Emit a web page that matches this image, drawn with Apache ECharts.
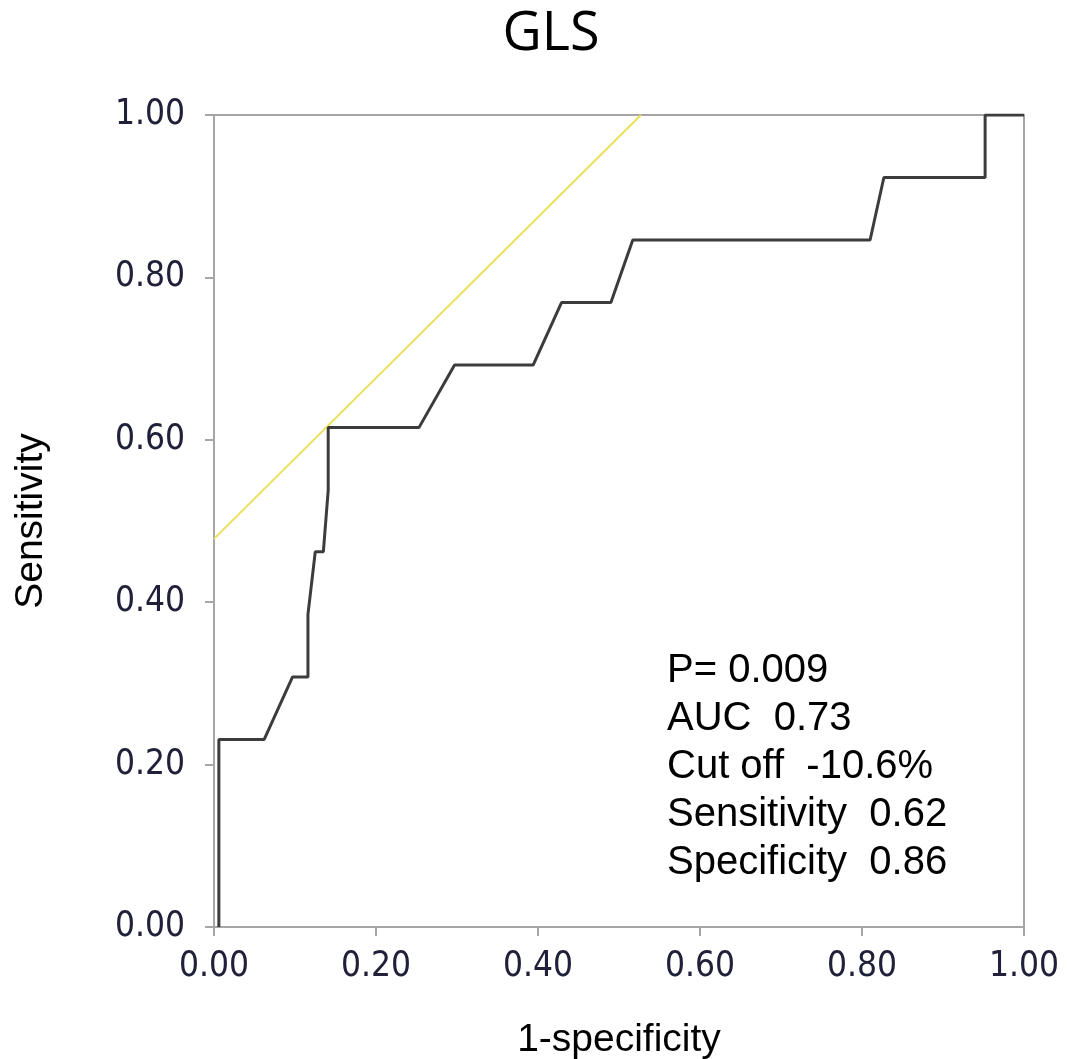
<!DOCTYPE html>
<html>
<head>
<meta charset="utf-8">
<script src="https://cdn.jsdelivr.net/npm/echarts@6/dist/echarts.min.js"></script>
<style>
  html, body { margin: 0; padding: 0; background: #fff; }
  #chart { width: 1067px; height: 1059px; }
</style>
</head>
<body>
<div id="chart"></div>
<script>
// ROC curve points [1-specificity, sensitivity]
var rocPoints = [
  [0.006, 0], [0.006, 0.231], [0.062, 0.231], [0.097, 0.308], [0.116, 0.308],
  [0.116, 0.385], [0.125, 0.462], [0.135, 0.462], [0.141, 0.538], [0.141, 0.615],
  [0.253, 0.615], [0.297, 0.692], [0.394, 0.692], [0.429, 0.769], [0.490, 0.769],
  [0.517, 0.846], [0.810, 0.846], [0.827, 0.923], [0.952, 0.923], [0.952, 1],
  [1, 1]
];
// tangent line at the cut off point
var tangentLine = [[0, 0.478], [0.527, 1]];
var statLines = [
  "P= 0.009",
  "AUC  0.73",
  "Cut off  -10.6%",
  "Sensitivity  0.62",
  "Specificity  0.86"
];

var chart = echarts.init(document.getElementById("chart"));

var axisCommon = {
  type: "value",
  min: 0,
  max: 1,
  interval: 0.2,
  axisLine: { show: true, lineStyle: { color: "#a6a6a6", width: 2 } },
  axisTick: { show: true, inside: false, length: 9, lineStyle: { color: "#a6a6a6", width: 2 } },
  splitLine: { show: false },
  axisLabel: {
    fontFamily: "DejaVu Sans Condensed",
    fontSize: 35,
    color: "#20203a",
    formatter: function (v) { return v.toFixed(2); }
  },
  nameTextStyle: { fontFamily: "Liberation Sans", fontSize: 39, color: "#000" }
};

var option = {
  backgroundColor: "#fff",
  animation: false,
  title: {
    text: "GLS",
    left: 546,
    top: 3,
    textAlign: "center",
    textStyle: { fontFamily: "Open Sans", fontSize: 54, fontWeight: "normal", color: "#000" }
  },
  grid: {
    left: 214,
    right: 43,
    top: 115,
    bottom: 132,
    outerBoundsMode: "none",
    containLabel: false,
    show: true,
    borderColor: "#a6a6a6",
    borderWidth: 2
  },
  xAxis: Object.assign({}, axisCommon, {
    name: "1-specificity",
    nameLocation: "middle",
    nameGap: 94,
    axisLabel: Object.assign({}, axisCommon.axisLabel, { margin: 22 })
  }),
  yAxis: Object.assign({}, axisCommon, {
    name: "Sensitivity",
    nameLocation: "middle",
    nameGap: 163,
    axisLabel: Object.assign({}, axisCommon.axisLabel, { margin: 29 })
  }),
  series: [
    {
      type: "line",
      data: tangentLine,
      symbol: "none",
      lineStyle: { color: "#ebe05a", width: 2 },
      z: 2
    },
    {
      type: "line",
      data: rocPoints,
      symbol: "none",
      lineStyle: { color: "#3c3c3c", width: 3 },
      z: 3
    }
  ],
  graphic: statLines.map(function (t, i) {
    return {
      type: "text",
      left: 667,
      top: 651 + i * 48,
      style: { text: t, fontFamily: "Liberation Sans", fontSize: 40, fill: "#000" }
    };
  })
};

chart.setOption(option);
</script>
</body>
</html>
